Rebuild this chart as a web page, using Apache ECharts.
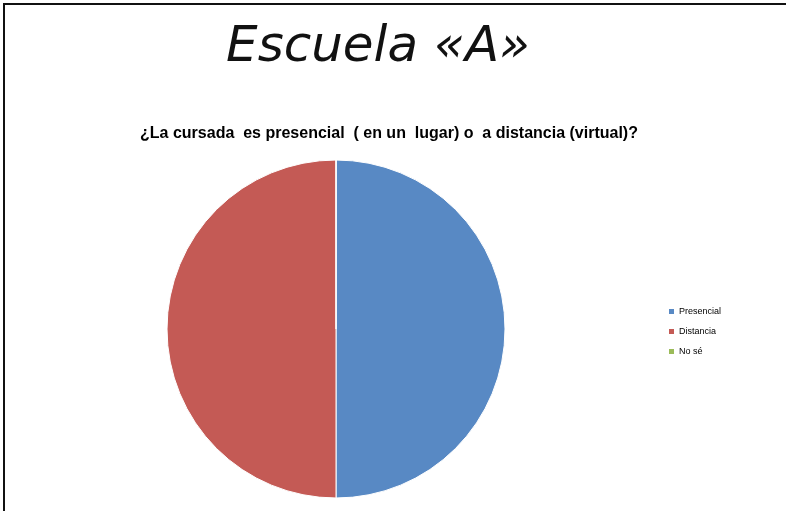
<!DOCTYPE html>
<html>
<head>
<meta charset="utf-8">
<script src="https://cdn.jsdelivr.net/npm/echarts@6/dist/echarts.min.js"></script>
<style>
  html, body { margin: 0; padding: 0; background: #fff; }
  #chart { width: 786px; height: 511px; }
</style>
</head>
<body>
<div id="chart"></div>
<script>
// categorías y valores de la encuesta
var categorias = ['Presencial', 'Distancia', 'No sé']
var valores = [50, 50, 0]
var colores = ['#5889c4', '#c45a55', '#9bbb59']

var chart = echarts.init(document.getElementById('chart'))

var datos = categorias.map(function(nombre, i) {
  return { name: nombre, value: valores[i] }
})

chart.setOption({
  backgroundColor: '#fff',
  animation: false,
  color: colores,
  title: [{
    text: 'Escuela «A»',
    left: 373,
    top: 18,
    textAlign: 'center',
    textStyle: {
      fontFamily: 'DejaVu Sans',
      fontStyle: 'italic',
      fontWeight: 'normal',
      fontSize: 50,
      color: '#111'
    }
  }, {
    text: '¿La cursada  es presencial  ( en un  lugar) o  a distancia (virtual)?',
    left: 384,
    top: 121,
    textAlign: 'center',
    textStyle: {
      fontFamily: 'Liberation Sans',
      fontWeight: 'bold',
      fontSize: 16,
      color: '#000'
    }
  }],
  legend: {
    orient: 'vertical',
    left: 662,
    top: 302,
    itemWidth: 7,
    itemHeight: 7,
    itemGap: 11,
    icon: 'rect',
    textStyle: {
      fontSize: 9,
      color: '#000',
      padding: [0, 0, 0, -1]
    },
    data: categorias
  },
  graphic: [{
    type: 'rect',
    shape: { x: 4, y: 4, width: 800, height: 520 },
    style: { fill: 'none', stroke: '#111', lineWidth: 2 },
    silent: true
  }],
  series: [{
    type: 'pie',
    center: [336, 329],
    radius: 169,
    startAngle: 90,
    clockwise: true,
    label: { show: false },
    labelLine: { show: false },
    itemStyle: {
      borderColor: '#fff',
      borderWidth: 1
    },
    emphasis: { disabled: true },
    data: datos
  }]
})
</script>
</body>
</html>
